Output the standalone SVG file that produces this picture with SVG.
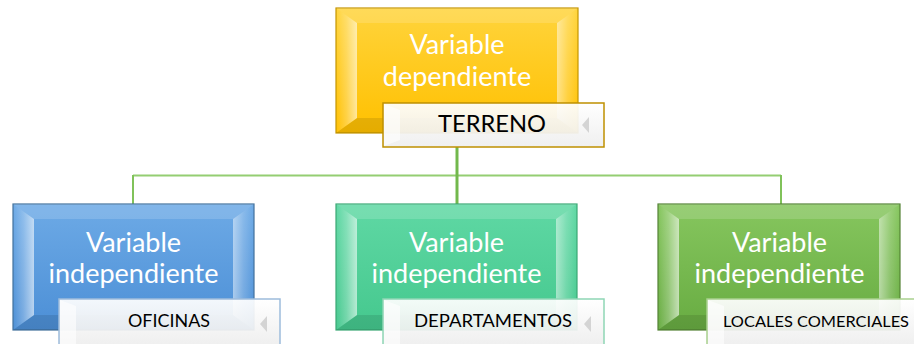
<svg xmlns="http://www.w3.org/2000/svg" width="914" height="344" viewBox="0 0 914 344">
<defs>
  <linearGradient id="gY" x1="0" y1="0" x2="0" y2="1"><stop offset="0" stop-color="#FFD43C"/><stop offset="1" stop-color="#FFC000"/></linearGradient>
  <linearGradient id="gB" x1="0" y1="0" x2="0" y2="1"><stop offset="0" stop-color="#6DAAE6"/><stop offset="1" stop-color="#4C8FD6"/></linearGradient>
  <linearGradient id="gT" x1="0" y1="0" x2="0" y2="1"><stop offset="0" stop-color="#5FD8A4"/><stop offset="1" stop-color="#45C88E"/></linearGradient>
  <linearGradient id="gG" x1="0" y1="0" x2="0" y2="1"><stop offset="0" stop-color="#86C65E"/><stop offset="1" stop-color="#68AC42"/></linearGradient>
  <linearGradient id="gL" x1="0" y1="0" x2="0" y2="1"><stop offset="0" stop-color="#FFFFFF"/><stop offset="1" stop-color="#EEEEEE"/></linearGradient>
  <linearGradient id="bevL" x1="0" y1="0" x2="1" y2="0"><stop offset="0" stop-color="#fff" stop-opacity="0"/><stop offset="0.5" stop-color="#fff" stop-opacity="0.25"/><stop offset="1" stop-color="#fff" stop-opacity="0.6"/></linearGradient>
  <linearGradient id="bevR" x1="1" y1="0" x2="0" y2="0"><stop offset="0" stop-color="#fff" stop-opacity="0"/><stop offset="0.5" stop-color="#fff" stop-opacity="0.2"/><stop offset="1" stop-color="#fff" stop-opacity="0.5"/></linearGradient>
  <style>
    .box{stroke-width:1.2}
    .bt{fill:#fff;fill-opacity:0.15}
    .bb{fill:#000;fill-opacity:0.1}
    .bl{fill:url(#bevL)}
    .br{fill:url(#bevR)}
    .lab{fill:url(#gL);fill-opacity:0.93;stroke-width:1.5}
    .lbl{fill:#fff;fill-opacity:0.6}
    .ltri{fill:#D4D4D4}
    .big{font-family:Lato,"Liberation Sans",sans-serif;font-size:27px;fill:#fff;text-anchor:middle}
    .small{font-family:Lato,"Liberation Sans",sans-serif;fill:#000;text-anchor:middle}
    .c{fill:none;stroke-linecap:butt}
  </style>
</defs>
<g id="connectors">
  <path class="c" d="M133,175.5 H781" stroke="#94CE72" stroke-width="2"/>
  <path class="c" d="M133,175 V204 M781,175 V204" stroke="#80C25A" stroke-width="2"/>
  <path class="c" d="M457,147 V204" stroke="#72B84C" stroke-width="3"/>
</g>
<g id="node-dependiente">
  <rect class="box" x="336" y="8" width="242" height="125" fill="url(#gY)" stroke="#C49400"/>
  <polygon class="bt" points="336,8 578,8 557,23 357,23"/>
  <polygon class="bb" points="336,133 578,133 557,118 357,118"/>
  <polygon class="bl" points="336,8 357,23 357,118 336,133"/>
  <polygon class="br" points="578,8 557,23 557,118 578,133"/>
  <text class="big" x="457" y="54">Variable</text>
  <text class="big" x="457" y="86">dependiente</text>
  <rect class="lab" x="383" y="103" width="221" height="44" stroke="#BF9000"/>
  <polygon class="lbl" points="384,104 400,110 400,140 384,146"/>
  <polygon class="ltri" points="582,125 589,117 589,133"/>
  <text class="small" x="492" y="132" font-size="22.5" textLength="108" lengthAdjust="spacingAndGlyphs">TERRENO</text>
</g>
<g id="node-oficinas">
  <rect class="box" x="13" y="204" width="241" height="126" fill="url(#gB)" stroke="#41719C"/>
  <polygon class="bt" points="13,204 254,204 233,219 34,219"/>
  <polygon class="bb" points="13,330 254,330 233,315 34,315"/>
  <polygon class="bl" points="13,204 34,219 34,315 13,330"/>
  <polygon class="br" points="254,204 233,219 233,315 254,330"/>
  <text class="big" x="133.5" y="252">Variable</text>
  <text class="big" x="133.5" y="283">independiente</text>
  <rect class="lab" x="59" y="299" width="221" height="46" stroke="#9DBCDC"/>
  <polygon class="lbl" points="60,300 76,306 76,344 60,344"/>
  <polygon class="ltri" points="260,324 267,316 267,332"/>
  <text class="small" x="169" y="327" font-size="17" textLength="82" lengthAdjust="spacingAndGlyphs">OFICINAS</text>
</g>
<g id="node-departamentos">
  <rect class="box" x="336" y="204" width="241" height="126" fill="url(#gT)" stroke="#3AA774"/>
  <polygon class="bt" points="336,204 577,204 556,219 357,219"/>
  <polygon class="bb" points="336,330 577,330 556,315 357,315"/>
  <polygon class="bl" points="336,204 357,219 357,315 336,330"/>
  <polygon class="br" points="577,204 556,219 556,315 577,330"/>
  <text class="big" x="456.5" y="252">Variable</text>
  <text class="big" x="456.5" y="283">independiente</text>
  <rect class="lab" x="383" y="299" width="221" height="46" stroke="#8FD6B5"/>
  <polygon class="lbl" points="384,300 400,306 400,344 384,344"/>
  <polygon class="ltri" points="584,324 591,316 591,332"/>
  <text class="small" x="493" y="327" font-size="17" textLength="158" lengthAdjust="spacingAndGlyphs">DEPARTAMENTOS</text>
</g>
<g id="node-locales">
  <rect class="box" x="658" y="204" width="242" height="126" fill="url(#gG)" stroke="#548235"/>
  <polygon class="bt" points="658,204 900,204 879,219 679,219"/>
  <polygon class="bb" points="658,330 900,330 879,315 679,315"/>
  <polygon class="bl" points="658,204 679,219 679,315 658,330"/>
  <polygon class="br" points="900,204 879,219 879,315 900,330"/>
  <text class="big" x="779.5" y="252">Variable</text>
  <text class="big" x="779.5" y="283">independiente</text>
  <rect class="lab" x="707" y="299" width="221" height="46" stroke="#A9D18E"/>
  <polygon class="lbl" points="708,300 724,306 724,344 708,344"/>
  <text class="small" x="816" y="327" font-size="15" textLength="186" lengthAdjust="spacingAndGlyphs">LOCALES COMERCIALES</text>
</g>
</svg>
